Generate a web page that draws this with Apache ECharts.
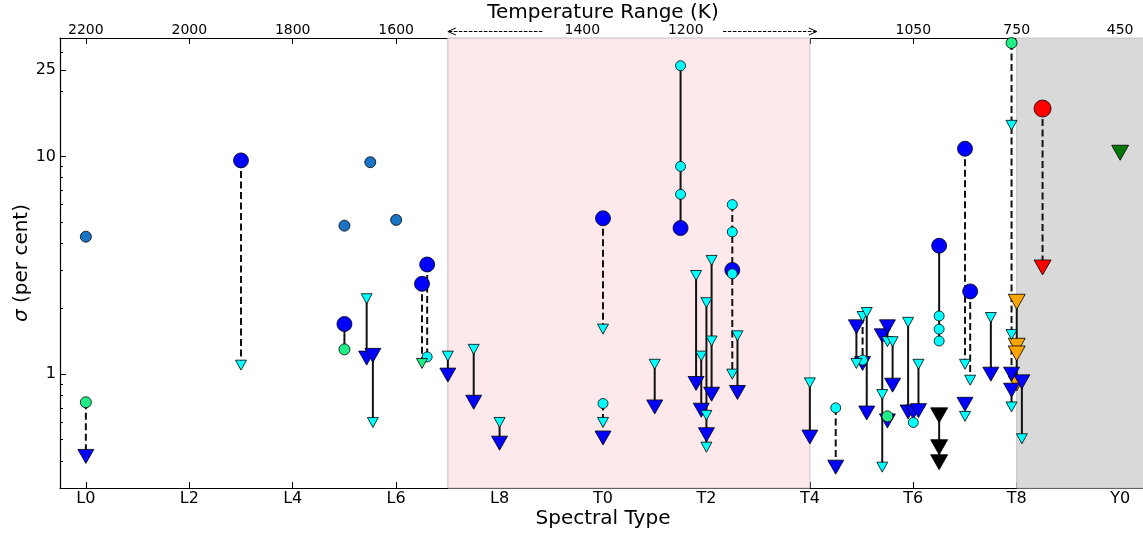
<!DOCTYPE html>
<html><head><meta charset="utf-8">
<script src="https://cdn.jsdelivr.net/npm/echarts@6/dist/echarts.min.js"></script>
<style>html,body{margin:0;padding:0;background:#fff}#c{width:1143px;height:535px}</style>
</head><body><div id="c"></div>
<script>
// ---- tick labels ----
const sptTickValues = [0,2,4,6,8,10,12,14,16,18,20];
const sptTickLabels = ['L0','L2','L4','L6','L8','T0','T2','T4','T6','T8','Y0'];
const tempTickValues = [0,2,4,6,7,9,12,14,16,18,20];
const tempLabelValues = [0,2,4,6,9.6,11.6,16,18,20];
const tempLabels = ['2200','2000','1800','1600','1400','1200','1050','750','450'];
const sigmaTickValues = [1,10,25];
const sigmaMinorTicks = [0.3,0.4,0.5,0.6,0.7,0.8,0.9,2,3,4,5,6,7,8,9,20,30];

// ---- markers: [spectral type, sigma (per cent)] ----
const steelCircles = [[0,4.28],[5,4.81],[5.5,9.41],[6,5.11]];
const bigBlueCircles = [[3,9.59],[5,1.70],[6.5,2.60],[6.6,3.19],[10,5.20],[11.5,4.69],[12.5,3.01],[16.5,3.89],[17,10.85],[17.1,2.40]];
const cyanCircles = [[6.6,1.20],[10,0.733],[11.5,26.1],[11.5,9.0],[11.5,6.70],[12.5,6.01],[12.5,4.50],[12.5,2.89],[14.5,0.70],[15.02,1.16],[16,0.60],[16.5,1.85],[16.5,1.61],[16.5,1.42]];
const greenCircles = [[0,0.743],[5,1.30],[15.5,0.64],[17.9,33.2]];
const redCircles = [[18.5,16.6]];
const bigBlueTris = [[0,0.419],[5.43,1.185],[5.55,1.22],[7,0.99],[7.5,0.743],[8,0.482],[10,0.509],[11,0.707],[11.8,0.906],[11.9,0.683],[12,0.527],[12.1,0.809],[12.6,0.824],[14,0.514],[14.5,0.374],[14.9,1.65],[15.02,1.12],[15.1,0.663],[15.4,1.50],[15.5,1.65],[15.5,0.61],[15.6,0.89],[15.9,0.67],[16,0.67],[16.1,0.68],[17,0.727],[17.5,1.0],[17.9,1.0],[17.9,0.844],[18.1,0.922]];
const cyanTris = [[3,1.10],[5.43,2.22],[5.55,0.60],[7,1.21],[7.5,1.30],[8,0.60],[10,1.61],[10,0.60],[11,1.11],[11.8,2.84],[11.9,1.21],[12,2.13],[12,0.647],[12,0.462],[12.1,3.33],[12.1,1.42],[12.5,1.0],[12.6,1.50],[14,0.912],[14.9,1.12],[15.02,1.84],[15.1,1.92],[15.4,0.806],[15.4,0.374],[15.5,1.41],[15.6,1.41],[15.9,1.73],[16.1,1.11],[17,1.11],[17,0.64],[17.1,0.938],[17.5,1.82],[17.9,13.9],[17.9,1.52],[17.9,0.707],[18.1,0.505]];
const greenTrisSmall = [[6.5,1.12]];
const orangeTris = [[18,2.15],[18,1.35],[18,1.245],[18,0.906]];
const blackTris = [[16.5,0.647],[16.5,0.462],[16.5,0.394]];
const redTris = [[18.5,3.09]];
const darkGreenTris = [[20,10.4]];

// ---- connectors: [spectral type, sigma top, sigma bottom] ----
const solidLinks = [[5,1.70,1.30],[5.43,2.22,1.185],[5.55,1.22,0.60],[7,1.21,0.99],[7.5,1.30,0.743],[8,0.60,0.482],[11,1.11,0.707],[11.5,26.1,4.69],[11.8,2.84,0.906],[11.9,1.21,0.683],[12,2.13,0.462],[12.1,3.33,0.809],[12.6,1.50,0.824],[14,0.912,0.514],[14.9,1.65,1.12],[15.1,1.92,0.663],[15.4,1.50,0.374],[15.5,1.65,1.41],[15.6,1.41,0.89],[15.9,1.73,0.67],[16.1,1.11,0.68],[16.5,3.89,1.42],[16.5,0.647,0.394],[17.5,1.82,1.0],[17.9,0.844,0.707],[18,2.15,0.906],[18.1,0.922,0.505]];
const dashedLinks = [[0,0.743,0.419],[3,9.59,1.10],[6.5,2.60,1.12],[6.6,3.19,1.20],[10,5.20,1.61],[10,0.733,0.60],[12.5,6.01,1.0],[14.5,0.70,0.374],[15.02,1.84,1.12],[17,10.85,1.11],[17.1,2.40,0.938],[17.9,33.2,1.0],[18.5,16.6,3.09]];

// ---- shaded ranges (spectral type) ----
const pinkRange = [7,14];
const greyRange = [18,20.5];

const FONT = 'DejaVu Sans';
const chart = echarts.init(document.getElementById('c'), null, {renderer:'canvas'});

function links(arr, dashed) {
  return arr.map(([x,a,b]) => ({
    type:'line', data:[[x,a],[x,b]], symbol:'none', silent:true, z:2,
    lineStyle:{color:'#111', width:2, type: dashed ? [7,3.5] : 'solid'}
  }));
}
function markers(data, symbol, size, color, z) {
  return {
    type:'scatter', data, symbol, symbolSize:size, z,
    symbolRotate: symbol === 'triangle' ? 180 : 0,
    itemStyle:{color, borderColor:'#000', borderWidth:0.8, opacity:1},
    silent:true
  };
}

const series = [
  {type:'scatter', data:[], z:0, silent:true,
   markArea:{silent:true, data:[
     [{xAxis:pinkRange[0], itemStyle:{color:'#fde9eb', borderColor:'#c8c0c0', borderWidth:1}},{xAxis:pinkRange[1]}],
     [{xAxis:greyRange[0], itemStyle:{color:'#d9d9d9', borderColor:'#c4c4c4', borderWidth:1}},{xAxis:greyRange[1]}]
   ]}},
  ...links(solidLinks,false),
  ...links(dashedLinks,true),
  markers(steelCircles,'circle',11,'#1a74c6',5),
  markers(bigBlueCircles,'circle',15,'#0000ff',5),
  markers(orangeTris,'triangle',[17,15],'#ffa500',6),
  markers(bigBlueTris,'triangle',[16,14],'#0000ff',7),
  markers(blackTris,'triangle',[17,15],'#000000',7),
  markers(cyanCircles,'circle',10,'#00ffff',8),
  markers(cyanTris,'triangle',[11,10],'#00ffff',9),
  markers(greenCircles,'circle',11,'#22ee88',10),
  markers(greenTrisSmall,'triangle',[11,10],'#22ee88',10),
  markers(redCircles,'circle',17,'#ff0000',10),
  markers(redTris,'triangle',[17,15],'#ff0000',10),
  markers(darkGreenTris,'triangle',[17,15],'#007700',10)
];

const axisLineStyle = {color:'#000', width:1.2};
const option = {
  animation:false,
  backgroundColor:'#fff',
  textStyle:{fontFamily:FONT},
  grid:{left:60, top:38, width:1086, height:450, containLabel:false, outerBoundsMode:'none'},
  xAxis:[
    {type:'value', position:'bottom', min:-0.5, max:20.5,
     name:'Spectral Type', nameLocation:'middle', nameGap:21, nameMoveOverlap:false,
     nameTextStyle:{fontFamily:FONT, fontSize:20, color:'#000'},
     axisLine:{show:true, onZero:false, lineStyle:axisLineStyle},
     axisTick:{show:true, inside:true, length:6, customValues:sptTickValues, lineStyle:{color:'#000'}},
     axisLabel:{show:true, margin:3, fontFamily:FONT, fontSize:16, color:'#000', customValues:sptTickValues,
       formatter:v => { const i = sptTickValues.findIndex(t => Math.abs(t-v)<1e-6); return i>=0 ? sptTickLabels[i] : ''; }},
     splitLine:{show:false}},
    {type:'value', position:'top', min:-0.5, max:20.5,
     name:'Temperature Range (K)', nameLocation:'middle', nameGap:15, nameMoveOverlap:false,
     nameTextStyle:{fontFamily:FONT, fontSize:20, color:'#000'},
     axisLine:{show:true, onZero:false, lineStyle:axisLineStyle},
     axisTick:{show:true, inside:true, length:6, customValues:tempTickValues, lineStyle:{color:'#000'}},
     axisLabel:{show:true, margin:1, fontFamily:FONT, fontSize:14, color:'#000', customValues:tempLabelValues,
       formatter:v => { const i = tempLabelValues.findIndex(t => Math.abs(t-v)<1e-6); return i>=0 ? tempLabels[i] : ''; }},
     splitLine:{show:false}}
  ],
  yAxis:[
    {type:'log', logBase:10, min:0.3, max:35, position:'left',
     name:'{i|σ} (per cent)', nameLocation:'middle', nameGap:28, nameMoveOverlap:false,
     nameTextStyle:{fontFamily:FONT, fontSize:20, color:'#000', rich:{i:{fontFamily:FONT, fontStyle:'italic', fontSize:20, color:'#000'}}},
     axisLine:{show:true, onZero:false, lineStyle:axisLineStyle},
     axisTick:{show:true, inside:true, length:6, customValues:sigmaTickValues, lineStyle:{color:'#000'}},
     axisLabel:{show:true, margin:4, fontFamily:FONT, fontSize:16, color:'#000', customValues:sigmaTickValues,
       formatter:v => String(Math.round(v))},
     splitLine:{show:false}, minorTick:{show:false}},
    {type:'log', logBase:10, min:0.3, max:35, position:'left', show:true,
     axisLine:{show:false, onZero:false},
     axisTick:{show:true, inside:true, length:3, customValues:sigmaMinorTicks, lineStyle:{color:'#000'}},
     axisLabel:{show:false},
     splitLine:{show:false}}
  ],
  series
};
chart.setOption(option);

// temperature-range arrows between the edges of the shaded range
const xl = chart.convertToPixel({xAxisIndex:0}, pinkRange[0]);
const xr = chart.convertToPixel({xAxisIndex:0}, pinkRange[1]);
const xlEnd = chart.convertToPixel({xAxisIndex:0}, 8.84);
const xrStart = chart.convertToPixel({xAxisIndex:0}, 12.32);
const ay = 31.5;
chart.setOption({graphic:[
  {type:'line', shape:{x1:xl+1, y1:ay, x2:xlEnd, y2:ay}, style:{stroke:'#000', lineWidth:1, lineDash:[3.5,1.5]}},
  {type:'polyline', shape:{points:[[xl+8,ay-3.5],[xl,ay],[xl+8,ay+3.5]]}, style:{stroke:'#000', lineWidth:1, fill:null}},
  {type:'line', shape:{x1:xrStart, y1:ay, x2:xr+6, y2:ay}, style:{stroke:'#000', lineWidth:1, lineDash:[3.5,1.5]}},
  {type:'polyline', shape:{points:[[xr-1,ay-3.5],[xr+7,ay],[xr-1,ay+3.5]]}, style:{stroke:'#000', lineWidth:1, fill:null}}
]});
</script>
</body></html>
